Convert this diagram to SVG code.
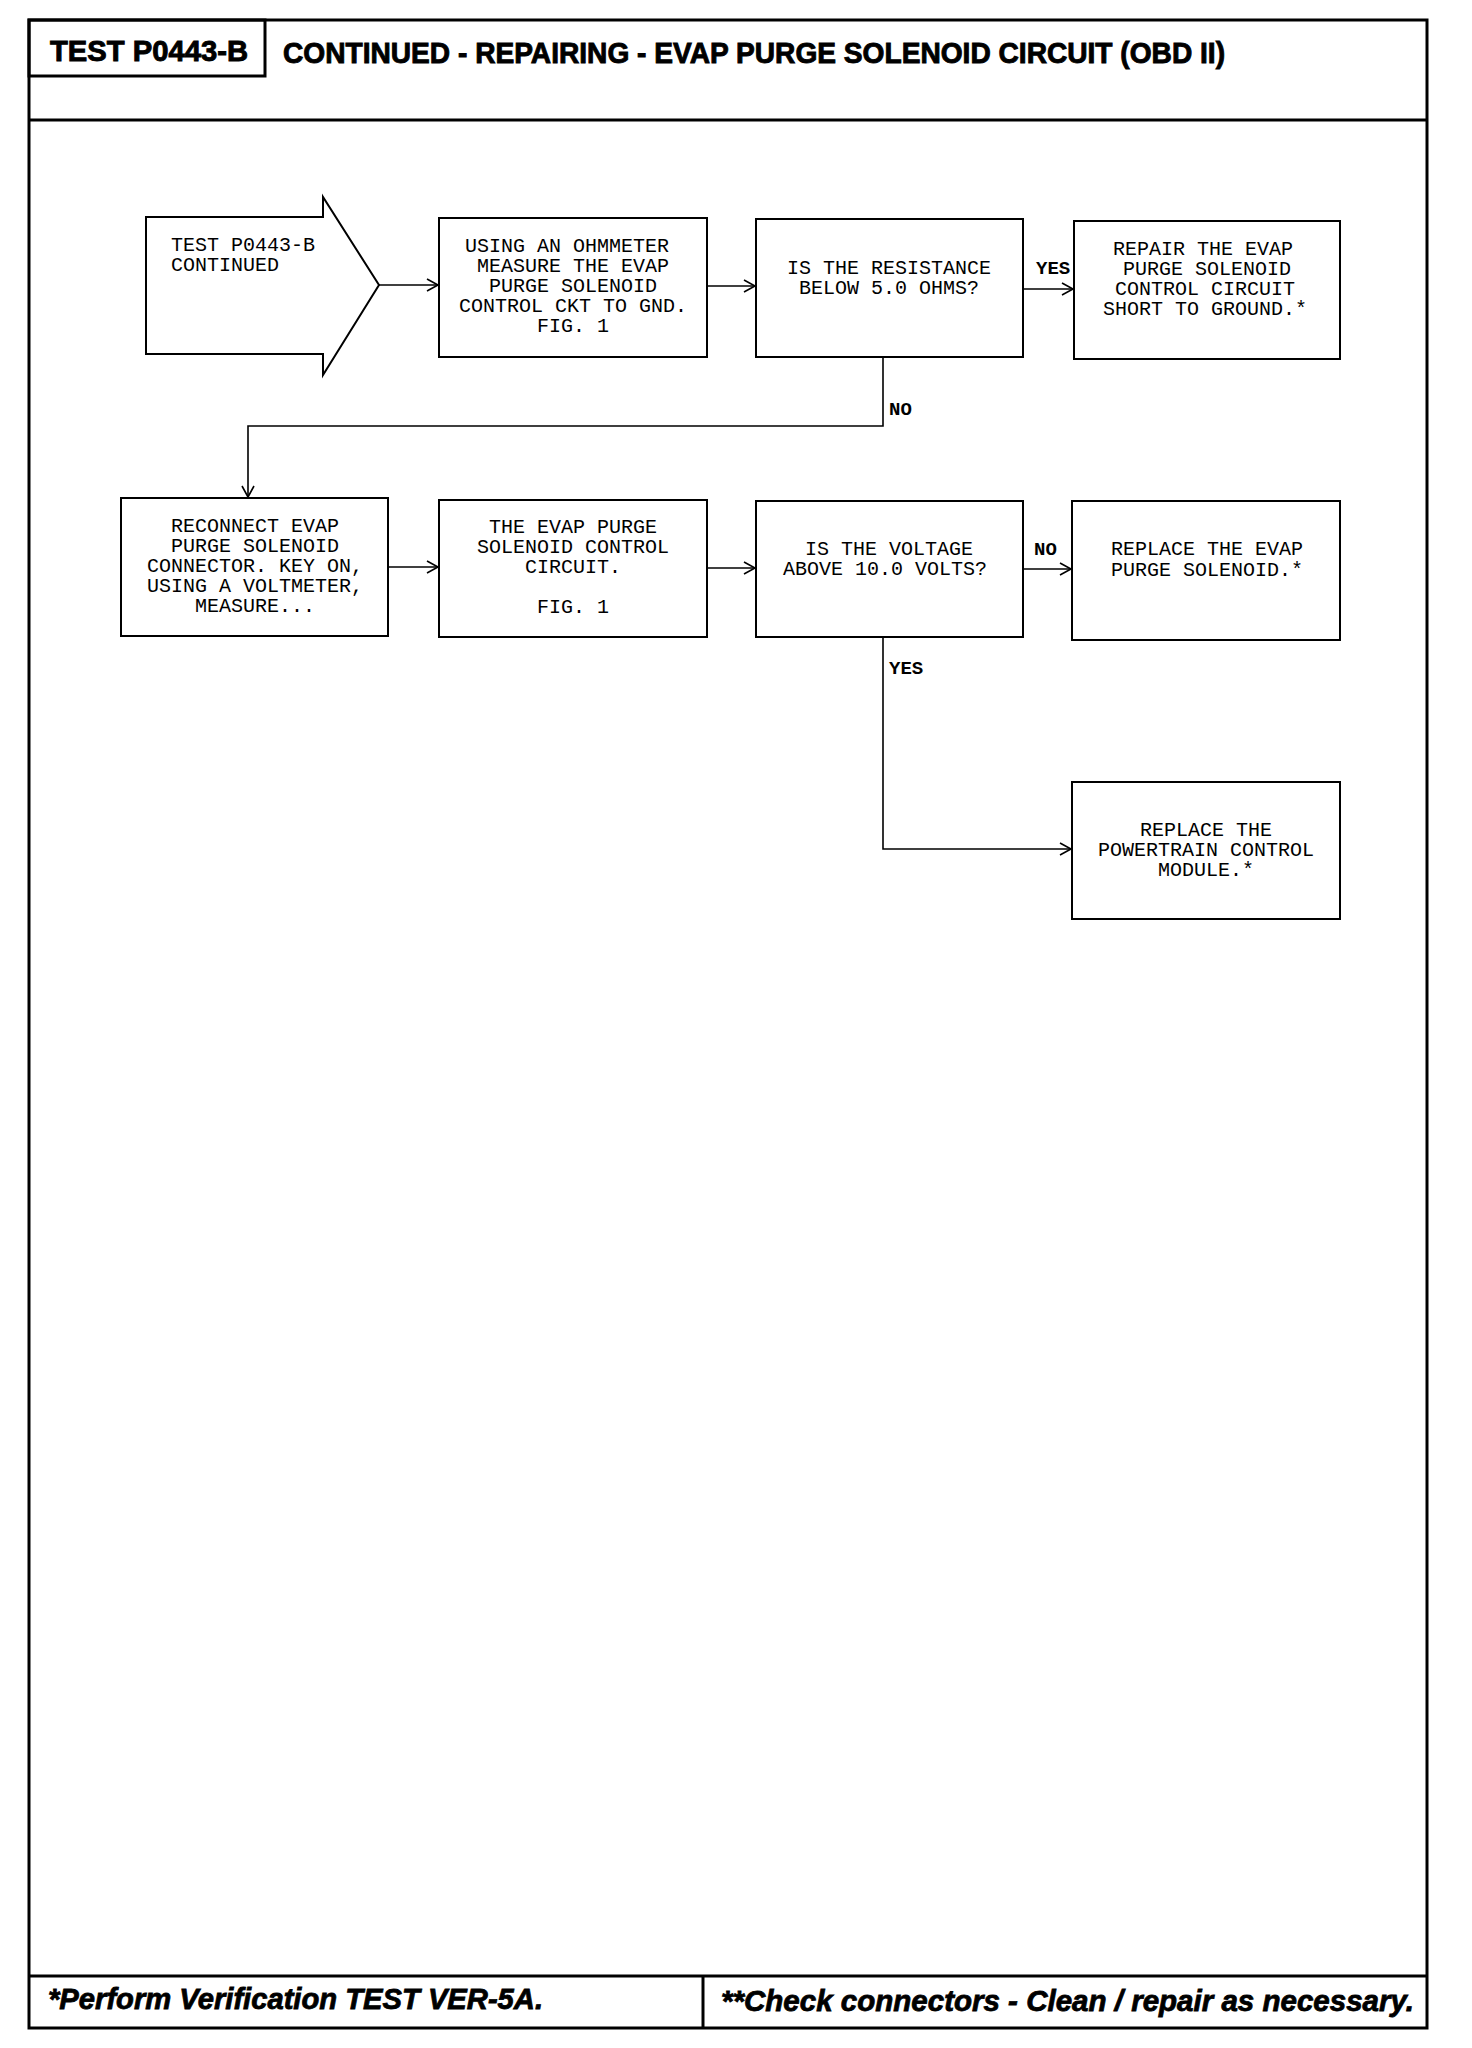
<svg xmlns="http://www.w3.org/2000/svg" width="1472" height="2048" viewBox="0 0 1472 2048">
<defs>
<marker id="arr" markerWidth="14" markerHeight="14" refX="12" refY="7" orient="auto" markerUnits="userSpaceOnUse">
<path d="M1,1 L12,7 L1,13" fill="none" stroke="#000" stroke-width="1.6"/>
</marker>
<style>
.frame{fill:none;stroke:#000;stroke-width:3}
.box{fill:#fff;stroke:#000;stroke-width:2}
.t{font-family:"Liberation Mono","DejaVu Sans Mono",monospace;font-size:20px;fill:#000;text-anchor:middle}
.tl{font-family:"Liberation Mono","DejaVu Sans Mono",monospace;font-size:20px;fill:#000}
.lbl{font-family:"Liberation Mono","DejaVu Sans Mono",monospace;font-size:19px;font-weight:bold;fill:#000}
.c{fill:none;stroke:#000;stroke-width:1.6}
.hd{font-family:"Liberation Sans",Arial,sans-serif;font-weight:bold;fill:#000;stroke:#000;stroke-width:0.9}
.ft{font-family:"Liberation Sans",Arial,sans-serif;font-weight:bold;font-style:italic;fill:#000;stroke:#000;stroke-width:0.8}
</style>
</defs>
<rect width="1472" height="2048" fill="#fff"/>
<g id="page-frame">
<rect class="frame" x="29" y="20" width="1398" height="2008"/>
<rect class="frame" x="29" y="20" width="236" height="56"/>
<line class="frame" x1="29" y1="120" x2="1427" y2="120"/>
<line class="frame" x1="29" y1="1976" x2="1427" y2="1976"/>
<line class="frame" x1="703" y1="1976" x2="703" y2="2028"/>
<text class="hd" x="50" y="61" font-size="29" textLength="198" lengthAdjust="spacingAndGlyphs">TEST P0443-B</text>
<text class="hd" x="283" y="63" font-size="29" textLength="942" lengthAdjust="spacingAndGlyphs">CONTINUED - REPAIRING - EVAP PURGE SOLENOID CIRCUIT (OBD II)</text>
<text class="ft" x="48" y="2009" font-size="29" textLength="495" lengthAdjust="spacingAndGlyphs">*Perform Verification TEST VER-5A.</text>
<text class="ft" x="721" y="2011" font-size="29" textLength="693" lengthAdjust="spacingAndGlyphs">**Check connectors - Clean / repair as necessary.</text>
</g>
<g id="connectors">
<line class="c" x1="379" y1="285" x2="438" y2="285" marker-end="url(#arr)"/>
<line class="c" x1="707" y1="286" x2="755" y2="286" marker-end="url(#arr)"/>
<line class="c" x1="1023" y1="289" x2="1073" y2="289" marker-end="url(#arr)"/>
<polyline class="c" points="883,357 883,426 248,426 248,497" marker-end="url(#arr)"/>
<line class="c" x1="388" y1="567" x2="438" y2="567" marker-end="url(#arr)"/>
<line class="c" x1="707" y1="568" x2="755" y2="568" marker-end="url(#arr)"/>
<line class="c" x1="1023" y1="569" x2="1071" y2="569" marker-end="url(#arr)"/>
<polyline class="c" points="883,637 883,849 1071,849" marker-end="url(#arr)"/>
<text class="lbl" x="1036" y="274">YES</text>
<text class="lbl" x="889" y="415">NO</text>
<text class="lbl" x="1034" y="555">NO</text>
<text class="lbl" x="889" y="674">YES</text>
</g>
<g id="start">
<polygon class="box" points="146,217 323,217 323,197 379,285 323,375 323,354 146,354"/>
<text class="tl" x="171" y="251">TEST P0443-B</text>
<text class="tl" x="171" y="271">CONTINUED</text>
</g>
<g id="measure-ohms">
<rect class="box" x="439" y="218" width="268" height="139"/>
<text class="t" x="567" y="252">USING AN OHMMETER</text>
<text class="t" x="573" y="272">MEASURE THE EVAP</text>
<text class="t" x="573" y="292">PURGE SOLENOID</text>
<text class="t" x="573" y="312">CONTROL CKT TO GND.</text>
<text class="t" x="573" y="332">FIG. 1</text>
</g>
<g id="resistance-check">
<rect class="box" x="756" y="219" width="267" height="138"/>
<text class="t" x="889" y="274">IS THE RESISTANCE</text>
<text class="t" x="889" y="294">BELOW 5.0 OHMS?</text>
</g>
<g id="repair-short">
<rect class="box" x="1074" y="221" width="266" height="138"/>
<text class="t" x="1203" y="255">REPAIR THE EVAP</text>
<text class="t" x="1207" y="275">PURGE SOLENOID</text>
<text class="t" x="1205" y="295">CONTROL CIRCUIT</text>
<text class="t" x="1205" y="315">SHORT TO GROUND.*</text>
</g>
<g id="reconnect">
<rect class="box" x="121" y="498" width="267" height="138"/>
<text class="t" x="255" y="532">RECONNECT EVAP</text>
<text class="t" x="255" y="552">PURGE SOLENOID</text>
<text class="t" x="255" y="572">CONNECTOR. KEY ON,</text>
<text class="t" x="255" y="592">USING A VOLTMETER,</text>
<text class="t" x="255" y="612">MEASURE...</text>
</g>
<g id="control-circuit">
<rect class="box" x="439" y="500" width="268" height="137"/>
<text class="t" x="573" y="533">THE EVAP PURGE</text>
<text class="t" x="573" y="553">SOLENOID CONTROL</text>
<text class="t" x="573" y="573">CIRCUIT.</text>
<text class="t" x="573" y="613">FIG. 1</text>
</g>
<g id="voltage-check">
<rect class="box" x="756" y="501" width="267" height="136"/>
<text class="t" x="889" y="555">IS THE VOLTAGE</text>
<text class="t" x="885" y="575">ABOVE 10.0 VOLTS?</text>
</g>
<g id="replace-solenoid">
<rect class="box" x="1072" y="501" width="268" height="139"/>
<text class="t" x="1207" y="555">REPLACE THE EVAP</text>
<text class="t" x="1207" y="576">PURGE SOLENOID.*</text>
</g>
<g id="replace-pcm">
<rect class="box" x="1072" y="782" width="268" height="137"/>
<text class="t" x="1206" y="836">REPLACE THE</text>
<text class="t" x="1206" y="856">POWERTRAIN CONTROL</text>
<text class="t" x="1206" y="876">MODULE.*</text>
</g>
</svg>
